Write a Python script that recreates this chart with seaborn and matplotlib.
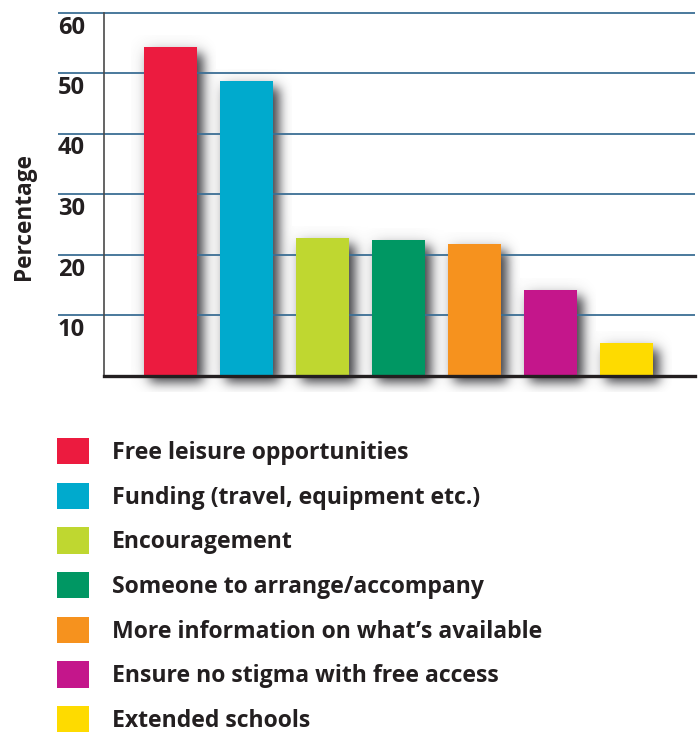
import numpy as np
import pandas as pd
import matplotlib
matplotlib.use("Agg")
import matplotlib.pyplot as plt
import matplotlib.transforms as mtransforms
from matplotlib.patches import Patch
import seaborn as sns

# Survey responses: what would help young people take part in leisure activities
categories = [
    "Free leisure opportunities",
    "Funding (travel, equipment etc.)",
    "Encouragement",
    "Someone to arrange/accompany",
    "More information on what\u2019s available",
    "Ensure no stigma with free access",
    "Extended schools",
]
percentages = [54.3, 48.6, 22.7, 22.4, 21.7, 14.1, 5.4]
colors = ["#ec1b3f", "#00aacd", "#bfd730", "#009763", "#f6921e", "#c4168b", "#fedb00"]
y_ticks = [10, 20, 30, 40, 50, 60]

TEXT = "#231f20"
GRID = "#3b6e94"
FONT = "Open Sans"

sns.set_theme(style="white")
plt.rcParams["font.family"] = [FONT, "DejaVu Sans"]

W, H, DPI = 699, 734, 100
fig = plt.figure(figsize=(W / DPI, H / DPI), dpi=DPI, facecolor="white")
ax = fig.add_axes([104 / W, (H - 375.5) / H, (695 - 104) / W, (375.5 - 12.5) / H])
ax.set_facecolor("none")

df = pd.DataFrame({"category": categories, "value": percentages})
sns.barplot(data=df, x="category", y="value", hue="category", palette=colors,
            width=0.70, saturation=1, legend=False, ax=ax, zorder=3,
            linewidth=0)

ax.set_xlim(-0.875, 6.90)
ax.set_ylim(0, 60)
ax.set_xticks([])
ax.set_yticks([])
ax.set_xlabel("")
ax.set_ylabel("")

for side in ("top", "right"):
    ax.spines[side].set_visible(False)
ax.spines["left"].set_color("#4a4a4a")
ax.spines["left"].set_linewidth(1.2)
ax.spines["bottom"].set_color(TEXT)
ax.spines["bottom"].set_linewidth(2.4)
ax.spines["bottom"].set_zorder(4)

# gridlines reach out past the axis over the value labels
ytrans = ax.get_yaxis_transform()
ax.hlines(y_ticks, -0.078, 1.0, transform=ytrans, colors=GRID, linewidth=1.3,
          zorder=2.2, clip_on=False)

# value labels sit just under each gridline
label_off = mtransforms.ScaledTranslation(0, -21 / DPI, fig.dpi_scale_trans)
for v in y_ticks:
    ax.text(-0.078, v, str(v), transform=ytrans + label_off, ha="left",
            va="baseline", fontsize=17, fontweight="bold", color=TEXT, zorder=5)

fig.text(24 / W, 1 - 216.5 / H, "Percentage", rotation=90, ha="center",
         va="center", fontsize=16.3, fontweight="bold", color=TEXT)

# soft drop shadows behind the bars, rendered at pixel resolution
fig.canvas.draw()
mask = np.zeros((H, W))
glow = np.zeros((H, W))
clip = np.zeros((H, W), dtype=bool)
base_y = ax.transData.transform((0, 0))[1]
for p in ax.patches:
    (x0, y0), (x1, y1) = ax.transData.transform(
        [(p.get_x(), p.get_y()), (p.get_x() + p.get_width(), p.get_y() + p.get_height())])
    dx, dy = 6, 7
    r0, r1 = int(round(H - y1 + dy)), int(round(H - y0 + dy))
    c0, c1 = int(round(x0 + dx)), int(round(x1 + dx))
    mask[max(r0, 0):min(r1, H), max(c0, 0):min(c1, W)] = 1.0
    g0, g1 = int(round(H - y1)), int(round(H - y0 + 4))
    glow[max(g0, 0):min(g1, H), max(int(x0), 0):min(int(x1) + 4, W)] = 1.0
    br0, br1 = int(round(H - y1 - 12)), int(round(H - base_y + 17))
    bc0, bc1 = int(round(x0 - 13)), int(round(x1 + 19))
    clip[max(br0, 0):min(br1, H), max(bc0, 0):min(bc1, W)] = True


def blur(a, sigma):
    r = int(3 * sigma)
    k = np.exp(-0.5 * (np.arange(-r, r + 1) / sigma) ** 2)
    k /= k.sum()
    out = np.zeros_like(a)
    pad = np.pad(a, ((0, 0), (r, r)))
    for i, w in enumerate(k):
        out += w * pad[:, i:i + a.shape[1]]
    pad = np.pad(out, ((r, r), (0, 0)))
    out2 = np.zeros_like(a)
    for i, w in enumerate(k):
        out2 += w * pad[i:i + a.shape[0], :]
    return out2


shadow = blur(mask, 5.5) * 0.92
halo = blur(glow, 9.0) * 0.14
alpha = 1 - (1 - shadow) * (1 - halo)
alpha[~clip] = 0.0
img = np.zeros((H, W, 4))
img[..., :3] = np.array([0.20, 0.20, 0.22])
img[..., 3] = alpha

inv = ax.transData.inverted()
(fx0, fy0), (fx1, fy1) = inv.transform([(0, 0), (W, H)])
ax.imshow(img, extent=[fx0, fx1, fy0, fy1], origin="upper", zorder=2,
          aspect="auto", interpolation="nearest", clip_on=False)
ax.set_xlim(-0.875, 6.90)
ax.set_ylim(0, 60)

handles = [Patch(facecolor=c, edgecolor="none") for c in colors]
fig.legend(handles, categories, loc="upper left",
           bbox_to_anchor=(57 / W, 1 - 438 / H), frameon=False,
           prop={"weight": "bold", "size": 16.6},
           handlelength=1.39, handleheight=1.39, handletextpad=1.0,
           labelspacing=0.77, borderpad=0, borderaxespad=0, labelcolor=TEXT)

fig.savefig("out.png", dpi=DPI, facecolor="white")
